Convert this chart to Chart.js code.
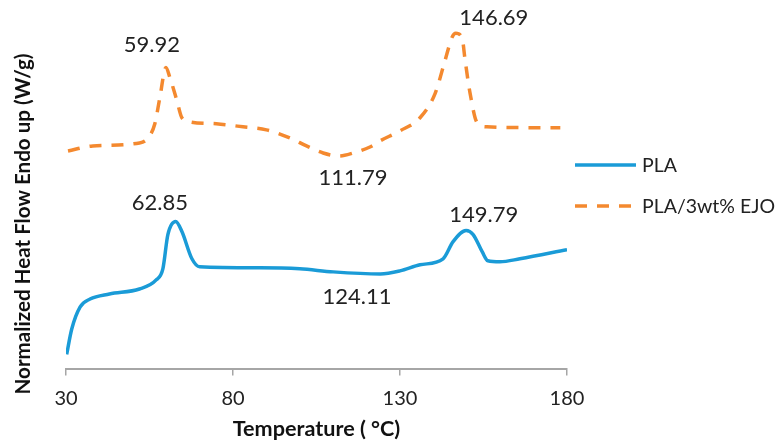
<!DOCTYPE html>
<html>
<head>
<meta charset="utf-8">
<script src="https://cdn.jsdelivr.net/npm/chart.js@4.4.1/dist/chart.umd.min.js"></script>
<style>
  html, body { margin: 0; padding: 0; background: #fff; }
  #wrap { width: 780px; height: 448px; }
</style>
</head>
<body>
<div id="wrap"><canvas id="dsc_chart"></canvas></div>
<script>
// DSC curves: temperature (C) and relative heat flow
var plaTemp = [30.2, 31.7, 34.2, 37.2, 43, 52, 57, 59, 60.5, 62.85, 64.7, 67.7, 70, 88, 100, 110, 124.11, 130, 136, 142.9, 145.9, 149.79, 151.9, 154.6, 156.3, 159.9, 165.9, 180];
var plaFlow = [1.4, 3.9, 6.1, 6.9, 7.4, 7.9, 8.8, 9.9, 13.3, 14.6, 13.6, 10.9, 10.1, 10.0, 9.9, 9.6, 9.4, 9.7, 10.3, 10.9, 12.6, 13.7, 13.3, 11.6, 10.7, 10.6, 10.9, 11.8];

var ejoTemp = [30.6, 38, 52, 54.6, 56.6, 58.1, 59.92, 61.1, 63.2, 64.7, 67, 75, 83, 90, 97, 102, 107, 111.79, 116, 121, 124, 130, 136, 140.5, 143.5, 145.6, 146.69, 148.6, 149.5, 151, 153.1, 156, 178];
var ejoFlow = [21.6, 22.1, 22.4, 22.9, 24.3, 26.9, 29.9, 28.9, 26.6, 24.9, 24.5, 24.3, 24.0, 23.7, 22.9, 22.1, 21.4, 21.1, 21.4, 22.0, 22.6, 23.6, 24.9, 27.3, 30.6, 32.9, 33.3, 32.8, 30.6, 27.3, 24.4, 24.0, 23.9];

var xTicks = [30, 80, 130, 180];

// peak / dip labels
var peakText = ['59.92', '146.69', '62.85', '149.79', '111.79', '124.11'];
var peakTemp = [55.7, 158.1, 58.1, 155.1, 115.9, 117.1];
var peakFlow = [32.1, 34.8, 16.4, 15.3, 18.9, 7.1];

var yTitle = 'Normalized Heat Flow Endo up (W/g)';

function toPoints(xs, ys) {
    return xs.map(function (x, i) { return { x: x, y: ys[i] }; });
}

var peakLabels = {
    id: 'peakLabels',
    afterDatasetsDraw: function (chart) {
        var c = chart.ctx;
        var sx = chart.scales.x, sy = chart.scales.y;
        c.save();
        c.font = '22px Lato';
        c.fillStyle = '#222';
        c.textAlign = 'center';
        c.textBaseline = 'middle';
        peakText.forEach(function (t, i) {
            c.fillText(t, sx.getPixelForValue(peakTemp[i]), sy.getPixelForValue(peakFlow[i]));
        });
        c.restore();
    }
};

// y title sits centred on the whole canvas height, not on the plot, so draw it here
var sideTitle = {
    id: 'sideTitle',
    afterDraw: function (chart) {
        var c = chart.ctx;
        c.save();
        c.translate(23, chart.height / 2);
        c.rotate(-Math.PI / 2);
        c.font = 'bold 20.6px Lato';
        c.fillStyle = '#111';
        c.textAlign = 'center';
        c.textBaseline = 'middle';
        c.fillText(yTitle, 0, 0);
        c.restore();
    }
};

// legend drawn by hand: the built-in one ties row spacing to its side margins
var sideLegend = {
    id: 'sideLegend',
    afterDraw: function (chart) {
        var c = chart.ctx;
        var area = chart.chartArea;
        var x0 = area.right + 8;
        c.save();
        c.font = '19.5px Lato';
        c.textBaseline = 'middle';
        c.textAlign = 'left';
        chart.data.datasets.forEach(function (ds, i) {
            var y = area.top + 149 + i * 41;
            c.strokeStyle = ds.borderColor;
            c.lineWidth = ds.borderWidth;
            c.setLineDash(ds.borderDash || []);
            c.beginPath();
            c.moveTo(x0, y);
            c.lineTo(x0 + 61, y);
            c.stroke();
            c.setLineDash([]);
            c.fillStyle = '#222';
            c.fillText(ds.label, x0 + 67, y + 1);
        });
        c.restore();
    }
};

var ctx = document.getElementById('dsc_chart').getContext('2d');
var dscChart = new Chart(ctx, {
    type: 'line',
    data: {
        datasets: [
            {
                label: 'PLA',
                data: toPoints(plaTemp, plaFlow),
                borderColor: '#1a9bd7',
                backgroundColor: '#1a9bd7',
                borderWidth: 3.5,
                pointRadius: 0,
                cubicInterpolationMode: 'monotone'
            },
            {
                label: 'PLA/3wt% EJO',
                data: toPoints(ejoTemp, ejoFlow),
                borderColor: '#f4892f',
                backgroundColor: '#f4892f',
                borderWidth: 3.5,
                borderDash: [12, 10],
                pointRadius: 0,
                cubicInterpolationMode: 'monotone'
            }
        ]
    },
    options: {
        responsive: true,
        maintainAspectRatio: false,
        animation: false,
        layout: { padding: { top: 16, left: 66, right: 213, bottom: 6 } },
        plugins: {
            tooltip: { enabled: false },
            legend: { display: false }
        },
        scales: {
            x: {
                type: 'linear',
                min: 30,
                max: 180,
                afterBuildTicks: function (axis) {
                    axis.ticks = xTicks.map(function (v) { return { value: v }; });
                },
                grid: { drawOnChartArea: false, drawTicks: true, tickLength: 7, color: '#a6a6a6', lineWidth: 1.5 },
                border: { color: '#a6a6a6', width: 2 },
                ticks: { color: '#222', padding: 11, font: { family: 'Lato', size: 20 }, maxRotation: 0 },
                title: {
                    display: true,
                    text: 'Temperature ( \u00b0C)',
                    color: '#111',
                    padding: { top: -5.5, bottom: 0 },
                    font: { family: 'Lato', size: 21.6, weight: 'bold' }
                }
            },
            y: {
                display: false,
                min: 0,
                max: 35
            }
        }
    },
    plugins: [peakLabels, sideTitle, sideLegend]
});
</script>
</body>
</html>
